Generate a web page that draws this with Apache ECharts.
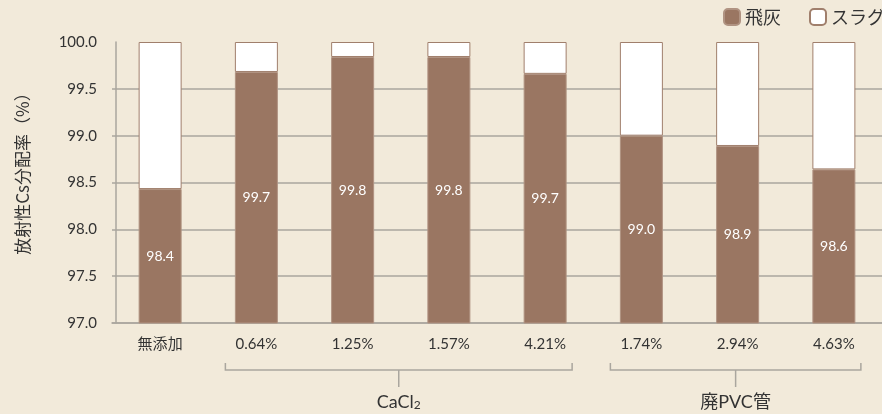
<!DOCTYPE html>
<html>
<head>
<meta charset="utf-8">
<script src="https://cdn.jsdelivr.net/npm/echarts@6/dist/echarts.min.js"></script>
<style>
  html, body { margin: 0; padding: 0; background: #f2eada; }
  #chart { width: 882px; height: 414px; }
</style>
</head>
<body>
<div id="chart"></div>
<script>
const categories = ['無添加', '0.64%', '1.25%', '1.57%', '4.21%', '1.74%', '2.94%', '4.63%']
const flyAsh = [98.43, 99.68, 99.84, 99.84, 99.66, 99.0, 98.89, 98.64]
const slag = [1.57, 0.32, 0.16, 0.16, 0.34, 1.0, 1.11, 1.36]
const yTicks = [97, 100, 0.5]
const groups = [
  { name: 'CaCl', sub: '2', from: 1, to: 4 },
  { name: '廃PVC管', sub: '', from: 5, to: 7 },
]

const brown = '#9a7662'
const lineColor = '#aaa69e'
const font = 'Lato, "Noto Sans CJK JP", sans-serif'

const chart = echarts.init(document.getElementById('chart'))

chart.setOption({
  backgroundColor: '#f2eada',
  textStyle: { fontFamily: font },
  animation: false,
  legend: {
    left: 723,
    top: 8,
    width: 240,
    padding: 0,
    orient: 'horizontal',
    itemWidth: 16,
    itemHeight: 16,
    itemGap: 28,
    textStyle: { fontSize: 18, color: '#333', fontFamily: '"Noto Sans CJK JP", sans-serif' },
    data: ['飛灰', 'スラグ'],
  },
  grid: {
    left: 112,
    right: -4,
    top: 42,
    bottom: 91,
  },
  xAxis: {
    type: 'category',
    data: categories,
    axisLine: { lineStyle: { color: lineColor, width: 1.5 } },
    axisTick: { show: false },
    axisLabel: { color: '#333', fontSize: 15, margin: 14 },
  },
  yAxis: {
    type: 'value',
    min: yTicks[0],
    max: yTicks[1],
    interval: yTicks[2],
    offset: -4,
    name: '放射性Cs分配率（%）',
    nameLocation: 'middle',
    nameGap: 85,
    nameTextStyle: {
      fontSize: 17,
      color: '#333',
      padding: [0, 0, 0, 26],
      fontFamily: '"Noto Sans CJK JP", sans-serif',
    },
    axisLine: { show: true, lineStyle: { color: lineColor, width: 1.5 } },
    axisTick: { show: false },
    axisLabel: {
      color: '#333',
      fontSize: 15,
      margin: 19,
      formatter: (v) => v.toFixed(1),
    },
    splitLine: { showMaxLine: false, lineStyle: { color: lineColor, width: 1.5 } },
  },
  series: [
    {
      name: '飛灰',
      type: 'bar',
      stack: 'total',
      barWidth: 43,
      data: flyAsh,
      itemStyle: { color: brown, borderColor: '#b09382', borderWidth: 1 },
      label: {
        show: true,
        position: 'inside',
        color: '#fff',
        fontSize: 14,
        formatter: (p) => p.value.toFixed(1),
      },
    },
    {
      name: 'スラグ',
      type: 'bar',
      stack: 'total',
      barWidth: 43,
      data: slag,
      itemStyle: { color: '#fff', borderColor: '#a07f6c', borderWidth: 1 },
    },
  ],
})

// group brackets under the category labels
const bracketY = 370
const graphic = []
groups.forEach((g) => {
  const x1 = chart.convertToPixel({ xAxisIndex: 0 }, g.from) - 31
  const x2 = chart.convertToPixel({ xAxisIndex: 0 }, g.to) + 27
  const mid = (x1 + x2) / 2
  const style = { stroke: lineColor, lineWidth: 1.5 }
  graphic.push(
    { type: 'polyline', shape: { points: [[x1, bracketY - 7], [x1, bracketY], [x2, bracketY], [x2, bracketY - 7]] }, style },
    { type: 'line', shape: { x1: mid, y1: bracketY, x2: mid, y2: bracketY + 17 }, style },
    {
      type: 'text',
      x: mid,
      y: 402,
      style: {
        text: g.sub ? '{m|' + g.name + '}{s|' + g.sub + '}' : '{m|' + g.name + '}',
        align: 'center',
        verticalAlign: 'middle',
        rich: {
          m: { fontSize: 18, fill: '#333', fontFamily: font },
          s: { fontSize: 12, fill: '#333', fontFamily: font, verticalAlign: 'bottom', padding: [6, 0, 0, 0] },
        },
      },
    }
  )
})
chart.setOption({ graphic })
</script>
</body>
</html>
